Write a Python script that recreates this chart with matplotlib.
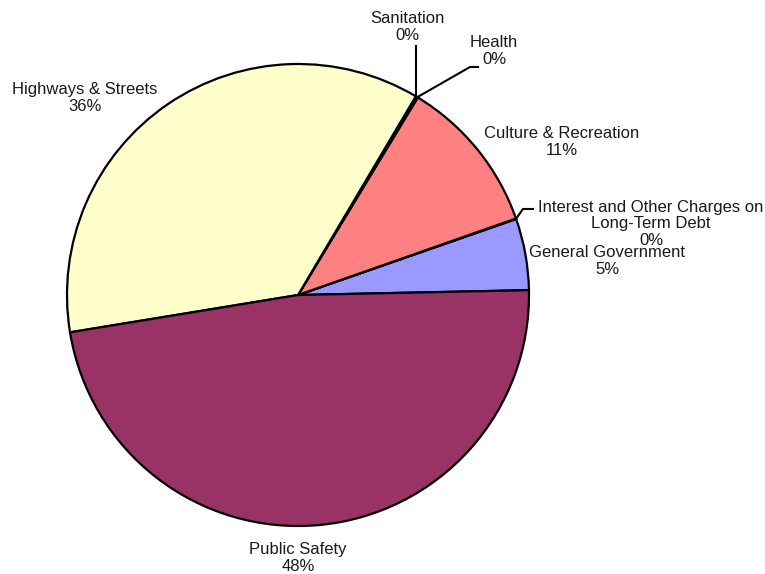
import numpy as np
import matplotlib
matplotlib.use('Agg')
import matplotlib.pyplot as plt

plt.rcParams['font.family'] = ['Liberation Sans', 'DejaVu Sans']

# Expenditures by function (percent of total), counter-clockwise from the right
categories = ['General Government', 'Interest and Other Charges on\nLong-Term Debt',
              'Culture & Recreation', 'Health', 'Sanitation',
              'Highways & Streets', 'Public Safety']
shares = [5.0, 0.04, 10.95, 0.08, 0.08, 36.1, 47.75]
colors = ['#9999FF', '#CCFFFF', '#FF8080', '#FFFFCC', '#FFFFCC', '#FFFFCC', '#993366']

W, H = 765, 574
CX, CY, R = 298, 295, 231


def px(x, y):
    # pixel position -> data coords (pie radius = 1)
    return (x - CX) / R, (CY - y) / R


fig = plt.figure(figsize=(W / 100, H / 100), dpi=100)
ax = fig.add_axes([0, 0, 1, 1])
wedges, _ = ax.pie(shares, colors=colors, startangle=1.2, counterclock=True,
                   wedgeprops=dict(edgecolor='black', linewidth=1.6))
ax.set_xlim(-CX / R, (W - CX) / R)
ax.set_ylim(-(H - CY) / R, CY / R)
ax.set_aspect('auto')
ax.axis('off')

total = sum(shares)
pcts = ['%d%%' % round(v / total * 100) for v in shares]

# label block centres, in pixels
label_pos = [(607, 261), (651, 224), (562, 142), (494, 51), (407, 27),
             (85, 98), (298, 558)]


def edge(w):
    a = np.deg2rad((w.theta1 + w.theta2) / 2)
    return np.cos(a), np.sin(a)


for w, name, pct, (lx, ly) in zip(wedges, categories, pcts, label_pos):
    x, y = px(lx, ly)
    ax.text(x, y, name + '\n' + pct, ha='center', va='center',
            fontsize=12, color='#1a1a1a', linespacing=1.15)

# leader lines for the tiny slices
lw = 1.5
ex, ey = edge(wedges[1])
p1, p2 = px(523, 209), px(533, 209)
ax.plot([ex, p1[0], p2[0]], [ey, p1[1], p2[1]], color='black', lw=lw)

ex, ey = edge(wedges[3])
p1, p2 = px(470, 67), px(478, 67)
ax.plot([ex, p1[0], p2[0]], [ey, p1[1], p2[1]], color='black', lw=lw)

ex, ey = edge(wedges[4])
p1 = px(0, 46)
ax.plot([ex, ex], [ey, p1[1]], color='black', lw=lw)

fig.savefig('out.png', dpi=100, facecolor='white')
